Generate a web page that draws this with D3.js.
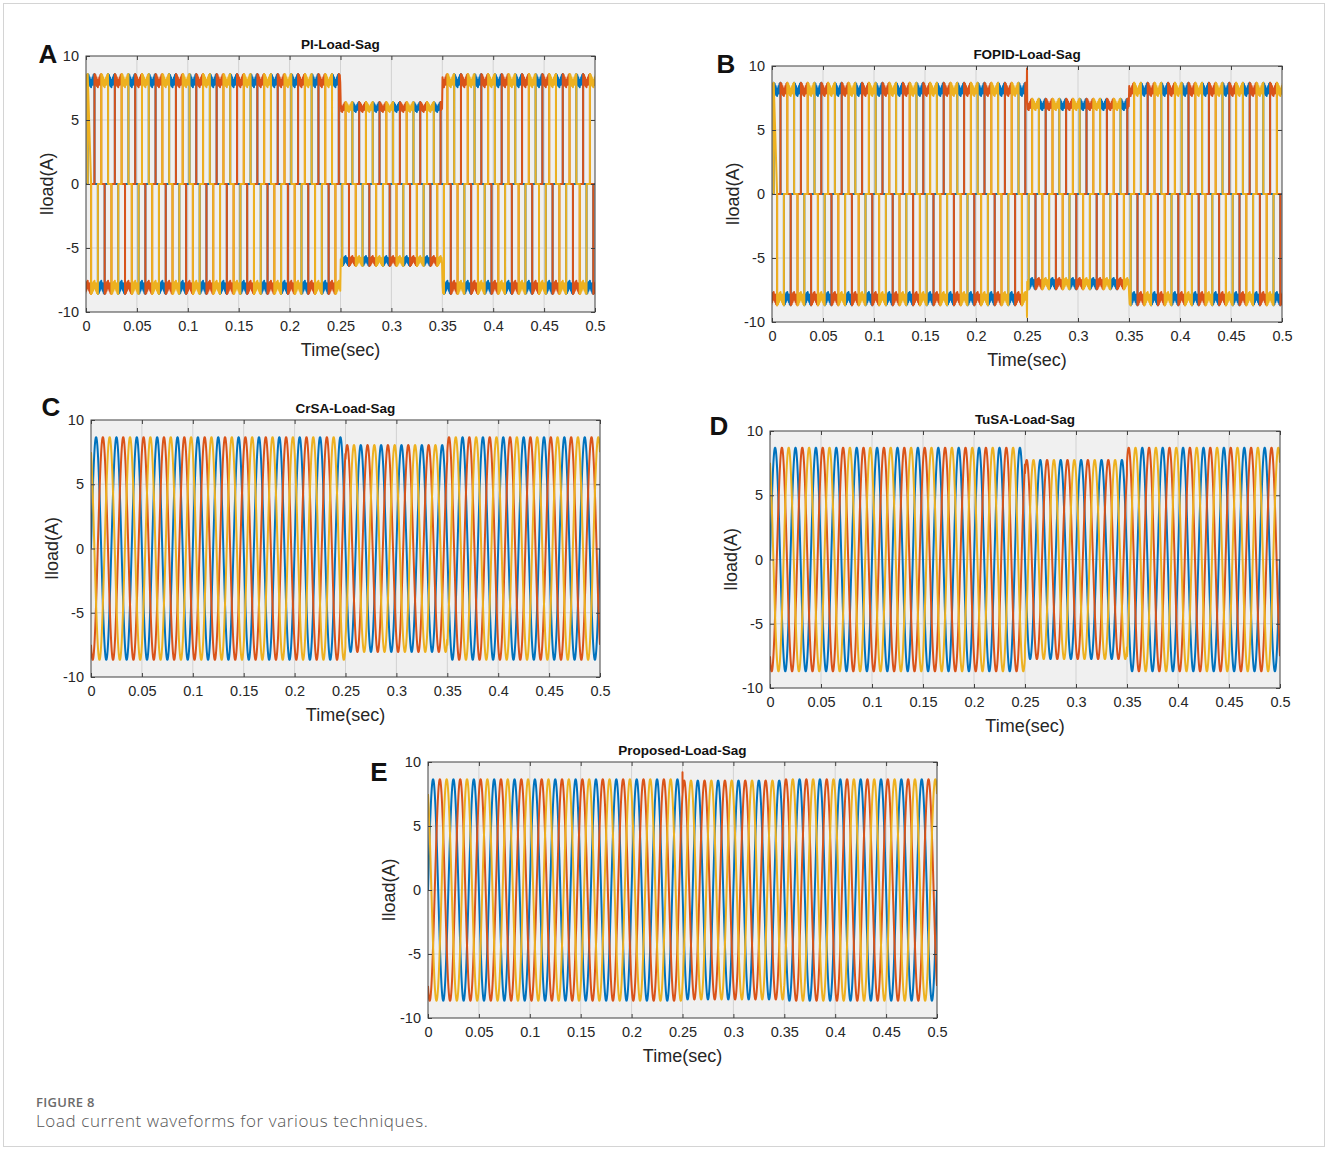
<!DOCTYPE html>
<html>
<head>
<meta charset="utf-8">
<script src="https://cdn.jsdelivr.net/npm/d3@7"></script>
<style>
  body { margin: 0; background: #fff; }
  svg { display: block; }
  .tick-label { font-family: "Liberation Sans", Arial, sans-serif; font-size: 14.5px; fill: #262626; }
  .axis-title { font-family: "Liberation Sans", Arial, sans-serif; font-size: 18px; fill: #262626; }
  .plot-title { font-family: "Liberation Sans", Arial, sans-serif; font-size: 13.5px; font-weight: bold; fill: #111; }
  .panel-letter { font-family: "Liberation Sans", Arial, sans-serif; font-size: 26px; font-weight: bold; fill: #111; }
</style>
</head>
<body>
<svg id="fig" width="1328" height="1150"></svg>
<script>
// values
let panelLetters = ["A", "B", "C", "D", "E"];
let panelTitles = ["PI-Load-Sag", "FOPID-Load-Sag", "CrSA-Load-Sag", "TuSA-Load-Sag", "Proposed-Load-Sag"];
let panelShapes = ["block", "block", "sine", "sine", "sine"];
let normalAmps = [8.6, 8.7, 8.66, 8.7, 8.65];
let sagAmps = [6.4, 7.45, 8.05, 7.75, 8.55];
let sagWindow = [0.25, 0.35];
let lineFreq = 50;
let phaseShifts = [0, -120, 120];
let phaseColors = ["#0072BD", "#D95319", "#EDB120"];
// relative level across one 120 deg conduction block (ripple on the plateau)
let plateauProfile = [1.0, 0.9, 0.99, 0.92, 0.97, 0.89, 0.95, 0.88, 0.95, 0.9, 0.97, 0.92, 0.99, 0.9, 1.0];
// transient spikes at the sag start
let spikePanels = [1, 1, 4];
let spikePhases = [1, 2, 1];
let spikeTimes = [0.25, 0.25, 0.25];
let spikeValues = [9.8, -9.6, 9.2];
let timeTicks = [0, 0.05, 0.1, 0.15, 0.2, 0.25, 0.3, 0.35, 0.4, 0.45, 0.5];
let currentTicks = [-10, -5, 0, 5, 10];

// layout of each axes box in the page
let boxes = [
    {x0: 86,  x1: 595,  y0: 56,  y1: 312,  lx: 48,  ly: 53},
    {x0: 772, x1: 1282, y0: 66,  y1: 322,  lx: 726, ly: 63},
    {x0: 91,  x1: 600,  y0: 420, y1: 677,  lx: 51,  ly: 406},
    {x0: 770, x1: 1280, y0: 431, y1: 688,  lx: 719, ly: 425},
    {x0: 428, x1: 937,  y0: 762, y1: 1018, lx: 379, ly: 771}
];

let svg = d3.select("#fig");
svg.append("rect").attr("width", 1328).attr("height", 1150).attr("fill", "#fff");
svg.append("rect")
    .attr("x", 3.5).attr("y", 3.5).attr("width", 1321).attr("height", 1143)
    .attr("fill", "none").attr("stroke", "#d4d4d4");

function ampAt(p, t) {
    return (t >= sagWindow[0] && t < sagWindow[1]) ? sagAmps[p] : normalAmps[p];
}

function blockWave(p, ph) {
    let pts = [];
    let degPerSec = 360 * lineFreq;
    let n = plateauProfile.length;
    for (let k = -1; k <= 26; k++) {
        let base = 360 * k - phaseShifts[ph];
        [[30, 150, 1], [210, 330, -1]].forEach(([a0, a1, sign]) => {
            let t0 = (base + a0) / degPerSec;
            let t1 = (base + a1) / degPerSec;
            pts.push({t: t0, v: 0});
            plateauProfile.forEach((r, j) => {
                let t = t0 + (t1 - t0) * j / (n - 1);
                pts.push({t: t, v: sign * ampAt(p, t) * r});
            });
            pts.push({t: t1, v: 0});
        });
    }
    return pts;
}

function sineWave(p, ph) {
    let pts = [];
    let steps = 5000;
    for (let i = 0; i <= steps; i++) {
        let t = 0.5 * i / steps;
        let ang = 2 * Math.PI * lineFreq * t + phaseShifts[ph] * Math.PI / 180;
        pts.push({t: t, v: ampAt(p, t) * Math.sin(ang)});
    }
    return pts;
}

let fmtTick = d => String(+(+d).toFixed(2));

boxes.forEach((b, p) => {
    let x = d3.scaleLinear().domain([0, 0.5]).range([b.x0, b.x1]);
    let y = d3.scaleLinear().domain([-10, 10]).range([b.y1, b.y0]);
    let g = svg.append("g");

    g.append("rect")
        .attr("x", b.x0).attr("y", b.y0)
        .attr("width", b.x1 - b.x0).attr("height", b.y1 - b.y0)
        .attr("fill", "#f0f0f0");

    // grid
    g.selectAll(".vgrid").data(timeTicks.slice(1, -1)).enter().append("line")
        .attr("x1", d => x(d)).attr("x2", d => x(d))
        .attr("y1", b.y0).attr("y2", b.y1)
        .attr("stroke", "#d2d2d2").attr("stroke-width", 1);
    g.selectAll(".hgrid").data(currentTicks.slice(1, -1)).enter().append("line")
        .attr("y1", d => y(d)).attr("y2", d => y(d))
        .attr("x1", b.x0).attr("x2", b.x1)
        .attr("stroke", "#d2d2d2").attr("stroke-width", 1);

    let clipId = "clip" + p;
    svg.append("clipPath").attr("id", clipId).append("rect")
        .attr("x", b.x0).attr("y", b.y0)
        .attr("width", b.x1 - b.x0).attr("height", b.y1 - b.y0);

    let line = d3.line().x(d => x(d.t)).y(d => y(d.v));
    let lg = g.append("g").attr("clip-path", `url(#${clipId})`);
    phaseColors.forEach((c, ph) => {
        let pts = panelShapes[p] === "block" ? blockWave(p, ph) : sineWave(p, ph);
        spikePanels.forEach((sp, i) => {
            if (sp === p && spikePhases[i] === ph) pts.push({t: spikeTimes[i], v: spikeValues[i]});
        });
        pts.sort((a, b2) => a.t - b2.t);
        lg.append("path")
            .datum(pts)
            .attr("d", line)
            .attr("fill", "none")
            .attr("stroke", c)
            .attr("stroke-width", panelShapes[p] === "block" ? 2 : 2)
            .attr("stroke-linejoin", "round");
    });

    // axes: box with inward ticks on all sides
    g.append("rect")
        .attr("x", b.x0).attr("y", b.y0)
        .attr("width", b.x1 - b.x0).attr("height", b.y1 - b.y0)
        .attr("fill", "none").attr("stroke", "#404040").attr("stroke-width", 1);

    let bottom = g.append("g").attr("transform", `translate(0, ${b.y1})`)
        .call(d3.axisBottom(x).tickValues(timeTicks).tickSizeInner(-4).tickSizeOuter(0)
            .tickPadding(9).tickFormat(fmtTick));
    let top = g.append("g").attr("transform", `translate(0, ${b.y0})`)
        .call(d3.axisTop(x).tickValues(timeTicks).tickSizeInner(-4).tickSizeOuter(0).tickFormat(""));
    let left = g.append("g").attr("transform", `translate(${b.x0}, 0)`)
        .call(d3.axisLeft(y).tickValues(currentTicks).tickSizeInner(-4).tickSizeOuter(0)
            .tickPadding(7).tickFormat(fmtTick));
    let right = g.append("g").attr("transform", `translate(${b.x1}, 0)`)
        .call(d3.axisRight(y).tickValues(currentTicks).tickSizeInner(-4).tickSizeOuter(0).tickFormat(""));
    [bottom, top, left, right].forEach(a => {
        a.select(".domain").remove();
        a.selectAll(".tick line").attr("stroke", "#404040");
        a.selectAll("text").attr("class", "tick-label").attr("font-family", null).attr("font-size", null);
    });

    g.append("text").attr("class", "plot-title")
        .attr("x", (b.x0 + b.x1) / 2).attr("y", b.y0 - 7)
        .attr("text-anchor", "middle")
        .text(panelTitles[p]);
    g.append("text").attr("class", "axis-title")
        .attr("x", (b.x0 + b.x1) / 2).attr("y", b.y1 + 44)
        .attr("text-anchor", "middle")
        .text("Time(sec)");
    g.append("text").attr("class", "axis-title")
        .attr("transform", `translate(${b.x0 - 33}, ${(b.y0 + b.y1) / 2}) rotate(-90)`)
        .attr("text-anchor", "middle")
        .text("Iload(A)");
    g.append("text").attr("class", "panel-letter")
        .attr("x", b.lx).attr("y", b.ly + 10)
        .attr("text-anchor", "middle")
        .text(panelLetters[p]);
});

svg.append("text")
    .attr("x", 36).attr("y", 1107)
    .attr("font-family", "'Open Sans', sans-serif").attr("font-size", 13)
    .attr("font-weight", 600).attr("fill", "#6b6b6b").attr("letter-spacing", 0.3)
    .text("FIGURE 8");
svg.append("text")
    .attr("x", 36).attr("y", 1127)
    .attr("font-family", "'Open Sans', sans-serif").attr("font-size", 17)
    .attr("font-weight", 300).attr("fill", "#555").attr("letter-spacing", 0.6)
    .text("Load current waveforms for various techniques.");
</script>
</body>
</html>
